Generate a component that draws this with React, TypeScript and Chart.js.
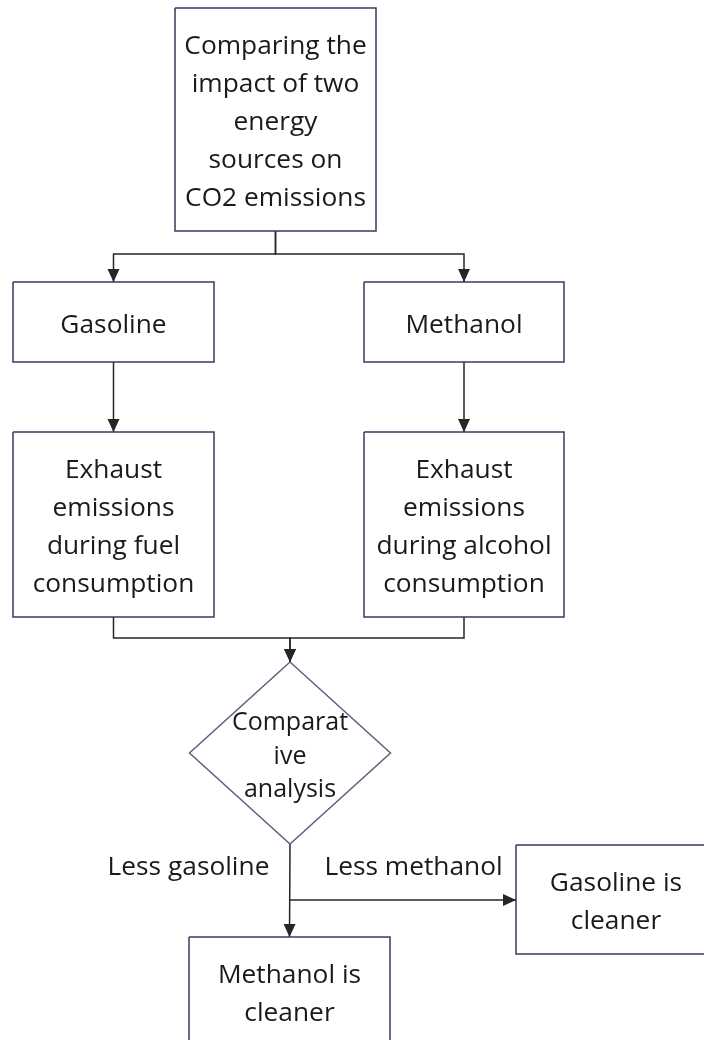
import React, { useEffect, useRef } from "react";
import { Chart, registerables } from "chart.js";

Chart.register(...registerables);

// ---- content ----
const nodeLines: string[][] = [
  ["Comparing the", "impact of two", "energy", "sources on", "CO2 emissions"],
  ["Gasoline"],
  ["Methanol"],
  ["Exhaust", "emissions", "during fuel", "consumption"],
  ["Exhaust", "emissions", "during alcohol", "consumption"],
  ["Comparat", "ive", "analysis"],
  ["Methanol is", "cleaner"],
  ["Gasoline is", "cleaner"],
];
const nodeShapes: string[] = ["rect", "rect", "rect", "rect", "rect", "diamond", "rect", "rect"];
const edgeFrom: number[] = [0, 0, 1, 2, 3, 4, 5, 5];
const edgeTo: number[] = [1, 2, 3, 4, 5, 5, 6, 7];
const edgeLabels: string[] = ["Less gasoline", "Less methanol"];

// ---- layout (chart units; the canvas spans 0..704 x 0..1040) ----
const nodeLayout: { cx: number; cy: number; w: number; h: number }[] = [
  { cx: 275.5, cy: 119.5, w: 201, h: 223 },
  { cx: 113.5, cy: 322, w: 201, h: 80 },
  { cx: 464, cy: 322, w: 200, h: 80 },
  { cx: 113.5, cy: 524.5, w: 201, h: 185 },
  { cx: 464, cy: 524.5, w: 200, h: 185 },
  { cx: 290, cy: 753, w: 201, h: 182 },
  { cx: 289.5, cy: 991.5, w: 201, h: 109 },
  { cx: 616, cy: 899.5, w: 200, h: 109 },
];
// routing of each edge: "bus" y for elbow connectors, or "side" branch y
const edgeRoute: { bus?: number; side?: number }[] = [
  { bus: 254 },
  { bus: 254 },
  {},
  {},
  { bus: 638 },
  { bus: 638 },
  {},
  { side: 900 },
];
const edgeLabelLayout = [
  { x: 188.5, y: 875 },
  { x: 413.5, y: 875 },
];

const BOX_FONT = 26.3;
const BOX_LH = 38;
const DIA_FONT = 25;
const DIA_LH = 33.5;
const BASE_OFF = 10.5;
const FONT_FAMILY = '"Open Sans", "Noto Sans", sans-serif';
const TEXT_COLOR = "#1a1a1a";
const BOX_COLOR = "#363b5e";
const DIA_COLOR = "#5c6080";
const LINE_COLOR = "#262626";

function shapePoints(i: number) {
  const n = nodeLayout[i];
  const l = n.cx - n.w / 2, r = n.cx + n.w / 2, t = n.cy - n.h / 2, b = n.cy + n.h / 2;
  if (nodeShapes[i] === "diamond") {
    return [
      { x: n.cx, y: t },
      { x: r, y: n.cy },
      { x: n.cx, y: b },
      { x: l, y: n.cy },
      { x: n.cx, y: t },
    ];
  }
  return [
    { x: l, y: t },
    { x: r, y: t },
    { x: r, y: b },
    { x: l, y: b },
    { x: l, y: t },
  ];
}

function edgePoints(k: number) {
  const a = nodeLayout[edgeFrom[k]];
  const b = nodeLayout[edgeTo[k]];
  const route = edgeRoute[k];
  const aBottom = a.cy + a.h / 2;
  const bTop = b.cy - b.h / 2;
  if (route.side !== undefined) {
    return [
      { x: a.cx, y: route.side },
      { x: b.cx - b.w / 2, y: route.side },
    ];
  }
  if (route.bus !== undefined) {
    return [
      { x: a.cx, y: aBottom },
      { x: a.cx, y: route.bus },
      { x: b.cx, y: route.bus },
      { x: b.cx, y: bTop },
    ];
  }
  return [
    { x: a.cx, y: aBottom },
    { x: b.cx, y: bTop },
  ];
}

export default function App() {
  const ref = useRef<HTMLCanvasElement | null>(null);

  useEffect(() => {
    if (!ref.current) return;
    document.body.style.margin = "0";

    const datasets: any[] = [];
    nodeLayout.forEach((_, i) => {
      datasets.push({
        data: shapePoints(i),
        showLine: true,
        borderColor: nodeShapes[i] === "diamond" ? DIA_COLOR : BOX_COLOR,
        borderWidth: 1.5,
        pointRadius: 0,
        fill: false,
        borderJoinStyle: "miter",
      });
    });
    edgeFrom.forEach((_, k) => {
      datasets.push({
        data: edgePoints(k),
        showLine: true,
        borderColor: LINE_COLOR,
        borderWidth: 1.5,
        pointRadius: 0,
        fill: false,
        borderJoinStyle: "miter",
      });
    });

    const textPlugin = {
      id: "flowText",
      afterDatasetsDraw(chart: any) {
        const ctx = chart.ctx as CanvasRenderingContext2D;
        const xs = chart.scales.x;
        const ys = chart.scales.y;
        ctx.save();
        // arrowheads
        ctx.fillStyle = LINE_COLOR;
        edgeFrom.forEach((_, k) => {
          const pts = edgePoints(k);
          const p1 = pts[pts.length - 2];
          const p2 = pts[pts.length - 1];
          const x1 = xs.getPixelForValue(p1.x), y1 = ys.getPixelForValue(p1.y);
          const x2 = xs.getPixelForValue(p2.x), y2 = ys.getPixelForValue(p2.y);
          const len = Math.hypot(x2 - x1, y2 - y1) || 1;
          const ux = (x2 - x1) / len, uy = (y2 - y1) / len;
          const L = 13, W = 6;
          ctx.beginPath();
          ctx.moveTo(x2, y2);
          ctx.lineTo(x2 - ux * L - uy * W, y2 - uy * L + ux * W);
          ctx.lineTo(x2 - ux * L + uy * W, y2 - uy * L - ux * W);
          ctx.closePath();
          ctx.fill();
        });
        // node text
        ctx.fillStyle = TEXT_COLOR;
        ctx.textAlign = "center";
        ctx.textBaseline = "alphabetic";
        nodeLines.forEach((lines, i) => {
          const n = nodeLayout[i];
          const dia = nodeShapes[i] === "diamond";
          const fs = dia ? DIA_FONT : BOX_FONT;
          const lh = dia ? DIA_LH : BOX_LH;
          ctx.font = `${fs}px ${FONT_FAMILY}`;
          const cx = xs.getPixelForValue(n.cx);
          const cy = ys.getPixelForValue(n.cy);
          lines.forEach((s, j) => {
            const y = cy + (j - (lines.length - 1) / 2) * lh + BASE_OFF;
            ctx.fillText(s, cx, y);
          });
        });
        // edge labels
        ctx.font = `${BOX_FONT}px ${FONT_FAMILY}`;
        edgeLabels.forEach((s, i) => {
          const p = edgeLabelLayout[i];
          ctx.fillText(s, xs.getPixelForValue(p.x), ys.getPixelForValue(p.y));
        });
        ctx.restore();
      },
    };

    const chart = new Chart(ref.current, {
      type: "scatter",
      data: { datasets },
      options: {
        animation: false,
        responsive: false,
        maintainAspectRatio: false,
        layout: { padding: 0 },
        plugins: { legend: { display: false }, tooltip: { enabled: false } },
        events: [],
        scales: {
          x: { type: "linear", min: 0, max: 704, display: false },
          y: { type: "linear", min: 0, max: 1040, reverse: true, display: false },
        },
      },
      plugins: [textPlugin],
    });
    return () => chart.destroy();
  }, []);

  return (
    <div style={{ position: "absolute", left: 0, top: 0, width: 704, height: 1040, background: "#fff" }}>
      <canvas ref={ref} width={704} height={1040} style={{ display: "block" }} />
    </div>
  );
}
